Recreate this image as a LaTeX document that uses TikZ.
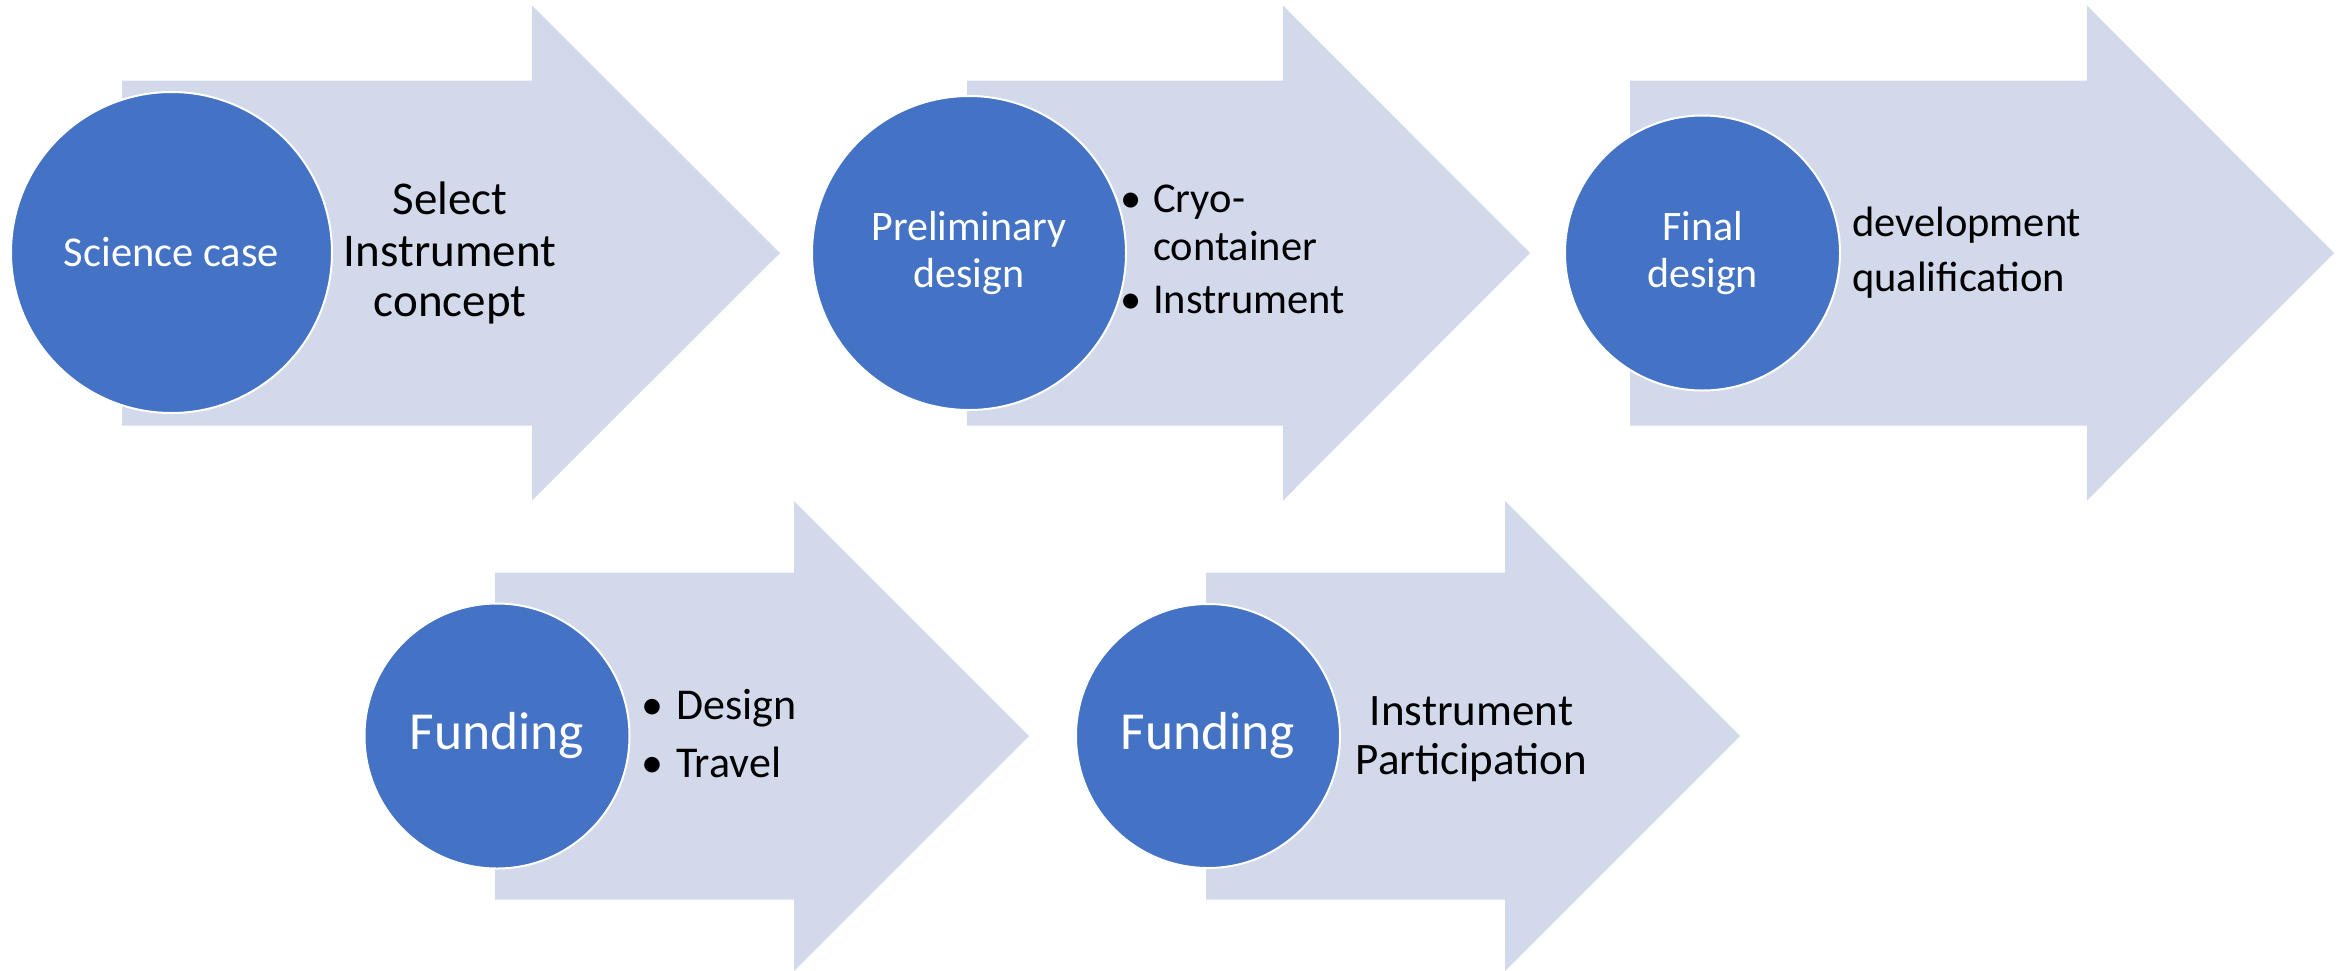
\documentclass[tikz,border=0pt]{standalone}
\usepackage{fontspec}
\setmainfont{Carlito}
\definecolor{arrowfill}{RGB}{210,217,235}
\definecolor{stageblue}{RGB}{68,114,196}
\newcommand{\fs}[2]{\fontsize{#1}{#2}\selectfont}
\begin{document}
\begin{tikzpicture}[x=1pt,y=-1pt,
  flow/.style={fill=arrowfill},
  stage/.style={circle, fill=stageblue, draw=white, line width=2pt,
    inner sep=0pt, text=white, align=center},
  line/.style={inner sep=0pt, text=black},
  bul/.style={inner sep=0pt, text=black, anchor=base west}]
\useasboundingbox (0,0) rectangle (2351,970);

% block arrows, top row
\fill[flow] (122,80.5) -- (532,80.5) -- (532,5.5) -- (780,253)
  -- (532,500.5) -- (532,425.5) -- (122,425.5) -- cycle;
\fill[flow] (967,80.5) -- (1283,80.5) -- (1283,5.5) -- (1530,253)
  -- (1283,500.5) -- (1283,425.5) -- (967,425.5) -- cycle;
\fill[flow] (1630,80.5) -- (2087,80.5) -- (2087,5.5) -- (2334,253)
  -- (2087,500.5) -- (2087,425.5) -- (1630,425.5) -- cycle;
% block arrows, bottom row
\fill[flow] (495,572.5) -- (794,572.5) -- (794,501) -- (1029,736)
  -- (794,971) -- (794,899.5) -- (495,899.5) -- cycle;
\fill[flow] (1206,572.5) -- (1505,572.5) -- (1505,501) -- (1740,736)
  -- (1505,971) -- (1505,899.5) -- (1206,899.5) -- cycle;

% stage circles
\node[stage, minimum size=321pt, font=\fs{42.5}{51}] (c1) at (171.5,252.5) {Science case};
\node[stage, minimum size=314pt, font=\fs{42}{47}] (c2) at (969,253) {Preliminary\\design};
\node[stage, minimum size=275pt, font=\fs{42}{47}] (c3) at (1702.5,253) {Final\\design};
\node[stage, minimum size=265pt, font=\fs{53.5}{64}] (c4) at (497,736) {Funding};
\node[stage, minimum size=264pt, font=\fs{53.5}{64}] (c5) at (1208,736) {Funding};

% arrow texts
\begin{scope}[font=\fs{47}{56}]
\node[line, anchor=base] (s1) at (450,214) {Select};
\node[line, anchor=base] (s2) at (450,266.7) {Instrument};
\node[line, anchor=base] (s3) at (450,316.7) {concept};
\end{scope}

\begin{scope}[font=\fs{42.5}{51}]
\node[bul] (p0) at (1120,212.3) {•};
\node[bul] (p1) at (1153,212.3) {Cryo-};
\node[bul] (p2) at (1153,260) {container};
\node[bul] (p3) at (1120,313.3) {•};
\node[bul] (p4) at (1153,313.3) {Instrument};

\node[bul] (f1) at (1852,236.3) {development};
\node[bul] (f2) at (1852,291.7) {qualification};
\end{scope}

\begin{scope}[font=\fs{44}{53}]
\node[bul] (d0) at (641,719.3) {•};
\node[bul] (d1) at (676,719.3) {Design};
\node[bul] (d2) at (641,777.3) {•};
\node[bul] (d3) at (676,777.3) {Travel};
\end{scope}

\begin{scope}[font=\fs{45}{54}]
\node[line, anchor=base] (i1) at (1471.5,725) {Instrument};
\node[line, anchor=base] (i2) at (1471.5,774.3) {Participation};
\end{scope}
\end{tikzpicture}
\end{document}
